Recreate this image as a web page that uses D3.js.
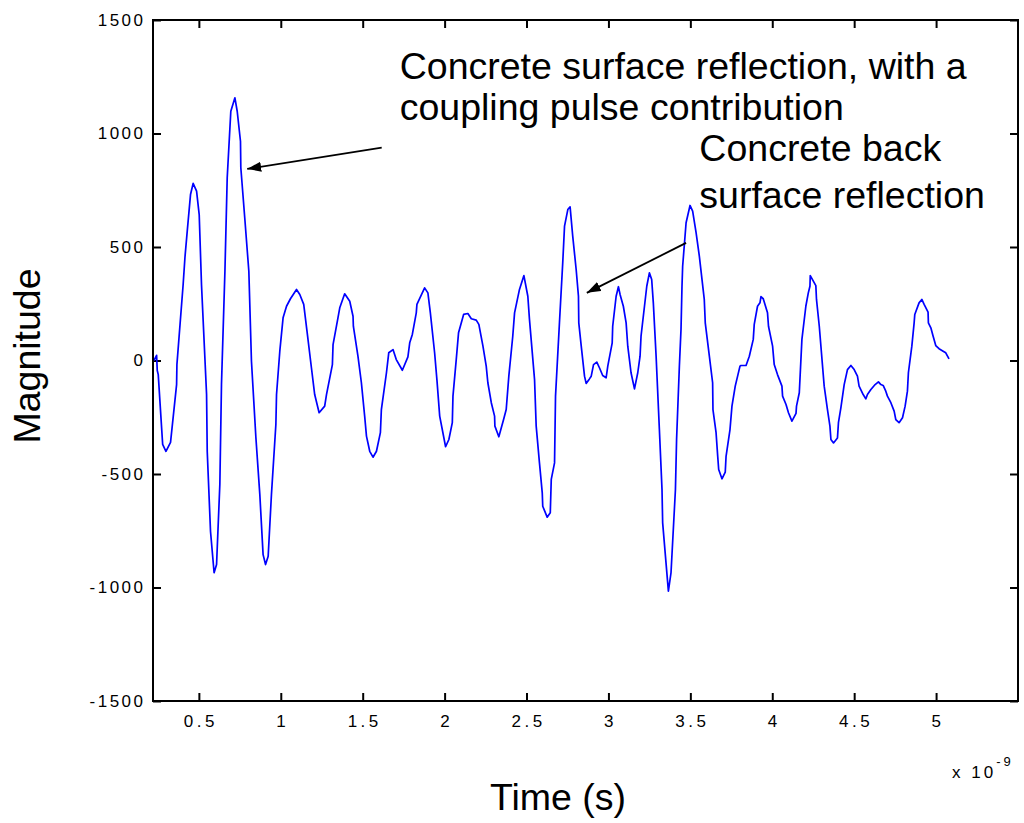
<!DOCTYPE html>
<html>
<head>
<meta charset="utf-8">
<script src="https://cdn.jsdelivr.net/npm/d3@7"></script>
<style>
  html, body { margin: 0; padding: 0; background: #fff; }
  svg { display: block; font-family: Arial, "Liberation Sans", sans-serif; }
</style>
</head>
<body>
<svg id="chart" width="1024" height="823"></svg>
<script>
// Time axis in units of 1e-9 s
const time = [
  0.226, 0.242, 0.246, 0.252, 0.279, 0.299, 0.327, 0.364, 0.366, 0.404,
  0.415, 0.429, 0.449, 0.465, 0.486, 0.502, 0.516, 0.547, 0.551, 0.571,
  0.593, 0.608, 0.628, 0.638, 0.659, 0.673, 0.695, 0.720, 0.734, 0.754,
  0.756, 0.780, 0.805, 0.821, 0.848, 0.872, 0.892, 0.907, 0.923, 0.943,
  0.970, 0.974, 0.994, 1.014, 1.035, 1.059, 1.096, 1.116, 1.140, 1.160,
  1.187, 1.207, 1.234, 1.268, 1.279, 1.315, 1.319, 1.349, 1.360, 1.390,
  1.421, 1.441, 1.443, 1.471, 1.492, 1.512, 1.523, 1.543, 1.563, 1.584,
  1.608, 1.614, 1.645, 1.659, 1.685, 1.705, 1.742, 1.776, 1.787, 1.803,
  1.827, 1.831, 1.878, 1.898, 1.913, 1.939, 1.953, 1.970, 2.006, 2.026,
  2.047, 2.051, 2.071, 2.085, 2.116, 2.142, 2.163, 2.193, 2.209, 2.234,
  2.254, 2.264, 2.285, 2.305, 2.307, 2.331, 2.360, 2.376, 2.392, 2.416,
  2.427, 2.457, 2.484, 2.508, 2.518, 2.549, 2.559, 2.579, 2.596, 2.599,
  2.626, 2.645, 2.651, 2.671, 2.677, 2.701, 2.721, 2.732, 2.752, 2.766,
  2.782, 2.803, 2.817, 2.819, 2.834, 2.854, 2.864, 2.884, 2.895, 2.909,
  2.929, 2.945, 2.965, 2.986, 2.996, 3.023, 3.026, 3.047, 3.061, 3.071,
  3.091, 3.108, 3.118, 3.138, 3.159, 3.179, 3.193, 3.199, 3.220, 3.234,
  3.250, 3.264, 3.274, 3.291, 3.311, 3.327, 3.331, 3.348, 3.366, 3.382,
  3.409, 3.416, 3.433, 3.443, 3.449, 3.453, 3.474, 3.498, 3.514, 3.535,
  3.555, 3.585, 3.591, 3.616, 3.636, 3.638, 3.657, 3.667, 3.673, 3.693,
  3.713, 3.718, 3.742, 3.754, 3.774, 3.803, 3.809, 3.840, 3.860, 3.884,
  3.890, 3.910, 3.925, 3.931, 3.945, 3.971, 3.977, 4.002, 4.012, 4.032,
  4.059, 4.063, 4.084, 4.099, 4.120, 4.145, 4.148, 4.165, 4.181, 4.205,
  4.220, 4.230, 4.232, 4.266, 4.270, 4.287, 4.317, 4.337, 4.352, 4.358,
  4.374, 4.398, 4.404, 4.419, 4.439, 4.459, 4.480, 4.500, 4.520, 4.530,
  4.555, 4.571, 4.581, 4.602, 4.628, 4.648, 4.663, 4.677, 4.693, 4.703,
  4.724, 4.744, 4.754, 4.774, 4.795, 4.811, 4.825, 4.831, 4.852, 4.866,
  4.870, 4.896, 4.913, 4.927, 4.951, 4.953, 4.968, 4.982, 4.998, 5.018,
  5.043, 5.059, 5.079
];

// Received signal magnitude
const magnitude = [
  0, 23, -44, -62, -370, -400, -361, -106, -18, 335,
  454, 570, 731, 780, 746, 643, 335, -150, -400, -752,
  -935, -899, -546, -106, 393, 805, 1098, 1157, 1098, 966,
  850, 629, 393, -3, -339, -590, -855, -899, -862, -590,
  -282, -150, 41, 188, 239, 272, 313, 291, 247, 129,
  -32, -150, -230, -201, -150, -18, 70, 188, 232, 294,
  261, 195, 151, 19, -98, -245, -333, -400, -426, -400,
  -318, -216, -54, 34, 48, 4, -43, 16, 78, 115,
  210, 247, 320, 298, 210, 34, -84, -245, -380, -348,
  -274, -157, 4, 122, 203, 207, 184, 178, 159, 63,
  -25, -98, -186, -245, -289, -336, -260, -216, -69, 107,
  210, 313, 374, 283, 181, -84, -289, -451, -583, -642,
  -690, -671, -524, -451, -157, 166, 430, 592, 665, 677,
  548, 401, 283, 166, 63, -69, -101, -81, -69, -18,
  -7, -32, -66, -76, -25, 78, 151, 283, 325, 291,
  239, 166, 63, -54, -125, -54, 19, 107, 239, 327,
  386, 357, 254, 19, -304, -568, -715, -862, -1016, -935,
  -568, -348, -25, 137, 327, 415, 607, 683, 658, 563,
  459, 269, 166, 19, -98, -216, -318, -422, -480, -521,
  -492, -422, -304, -201, -113, -25, -22, -22, 19, 93,
  159, 239, 254, 281, 272, 210, 151, 63, -18, -62,
  -113, -157, -194, -230, -267, -233, -201, -142, 93, 239,
  298, 327, 374, 330, 269, 151, -113, -216, -289, -348,
  -363, -341, -274, -208, -106, -40, -22, -40, -69, -113,
  -150, -169, -150, -128, -106, -94, -106, -110, -135, -157,
  -186, -223, -260, -274, -252, -201, -135, -54, 63, 166,
  203, 254, 269, 247, 213, 166, 144, 107, 66, 52,
  41, 34, 7
];

const xTicks = [0.5, 1, 1.5, 2, 2.5, 3, 3.5, 4, 4.5, 5];
const yTicks = [-1500, -1000, -500, 0, 500, 1000, 1500];

// Annotation texts and arrows, anchored in data coordinates
const notes = [
  { lines: ["Concrete surface reflection, with a", "coupling pulse contribution"], t: 1.726, m: 1238, lineGap: 1.08 },
  { lines: ["Concrete back", "surface reflection"], t: 3.555, m: 880, lineGap: 1.26 }
];
const arrows = [
  { from: [1.616, 938], to: [0.795, 844] },
  { from: [3.474, 518], to: [2.868, 298] }
];

const svg = d3.select("#chart");
const margin = { left: 153, right: 1018, top: 20, bottom: 701 };

const x = d3.scaleLinear().domain([0.22, 5.5]).range([margin.left, margin.right]);
const y = d3.scaleLinear().domain([-1500, 1500]).range([margin.bottom, margin.top]);

const tickLen = 8;
const axisColor = "#000";
const plain = d => String(d);

// Arrowhead marker
svg.append("defs").append("marker")
  .attr("id", "head")
  .attr("viewBox", "0 0 14 10")
  .attr("refX", 14).attr("refY", 5)
  .attr("markerWidth", 14).attr("markerHeight", 10)
  .attr("markerUnits", "userSpaceOnUse")
  .attr("orient", "auto")
  .append("path").attr("d", "M0,0 L14,5 L0,10 Z").attr("fill", "#000");

// Bottom axis (ticks inside)
const gx = svg.append("g").attr("transform", `translate(0,${margin.bottom})`)
  .call(d3.axisBottom(x).tickValues(xTicks).tickSize(-tickLen).tickPadding(14).tickFormat(plain));
// Top axis
const gxt = svg.append("g").attr("transform", `translate(0,${margin.top})`)
  .call(d3.axisTop(x).tickValues(xTicks).tickSize(-tickLen).tickFormat(""));
// Left axis
const gy = svg.append("g").attr("transform", `translate(${margin.left},0)`)
  .call(d3.axisLeft(y).tickValues(yTicks).tickSize(-tickLen).tickPadding(14).tickFormat(plain));
// Right axis
const gyr = svg.append("g").attr("transform", `translate(${margin.right},0)`)
  .call(d3.axisRight(y).tickValues(yTicks).tickSize(-tickLen).tickFormat(""));

[gx, gxt, gy, gyr].forEach(g => {
  g.select(".domain").remove();
  g.selectAll(".tick line").attr("stroke", axisColor).attr("stroke-width", 2);
  g.selectAll(".tick text").attr("fill", "#000").attr("font-size", 17)
    .attr("font-family", "Arial, 'Liberation Sans', sans-serif");
});
gx.selectAll(".tick text").attr("letter-spacing", "3.5px").attr("dy", "0.71em").attr("dx", "1.5px");
gy.selectAll(".tick text").attr("letter-spacing", "2.5px").attr("dx", "6.5px");

// Signal trace
const pts = time.map((t, i) => [t, magnitude[i]]);
svg.append("path")
  .datum(pts)
  .attr("fill", "none")
  .attr("stroke", "#0000ff")
  .attr("stroke-width", 1.7)
  .attr("stroke-linejoin", "round")
  .attr("d", d3.line().x(d => x(d[0])).y(d => y(d[1])));

// Axes box
svg.append("rect")
  .attr("x", margin.left).attr("y", margin.top)
  .attr("width", margin.right - margin.left).attr("height", margin.bottom - margin.top)
  .attr("fill", "none").attr("stroke", axisColor).attr("stroke-width", 2);

// Annotation arrows
arrows.forEach(a => {
  svg.append("line")
    .attr("x1", x(a.from[0])).attr("y1", y(a.from[1]))
    .attr("x2", x(a.to[0])).attr("y2", y(a.to[1]))
    .attr("stroke", "#000").attr("stroke-width", 1.8)
    .attr("marker-end", "url(#head)");
});

// Annotation texts
notes.forEach(n => {
  const txt = svg.append("text")
    .attr("x", x(n.t)).attr("y", y(n.m))
    .attr("font-size", 37.5).attr("fill", "#000");
  n.lines.forEach((line, i) => {
    txt.append("tspan").attr("x", x(n.t)).attr("dy", i === 0 ? 0 : `${n.lineGap}em`).text(line);
  });
});

// Axis titles
svg.append("text")
  .attr("x", 558).attr("y", 810)
  .attr("text-anchor", "middle").attr("font-size", 37.5).text("Time (s)");
svg.append("text")
  .attr("transform", `translate(40,356) rotate(-90)`)
  .attr("text-anchor", "middle").attr("font-size", 37.5).text("Magnitude");

// Exponent label
const ex = svg.append("text").attr("x", 952).attr("y", 778).attr("font-size", 17).attr("letter-spacing", "3px");
ex.append("tspan").text("x 10");
ex.append("tspan").attr("font-size", 13).attr("dy", -12).text("-9");
</script>
</body>
</html>
